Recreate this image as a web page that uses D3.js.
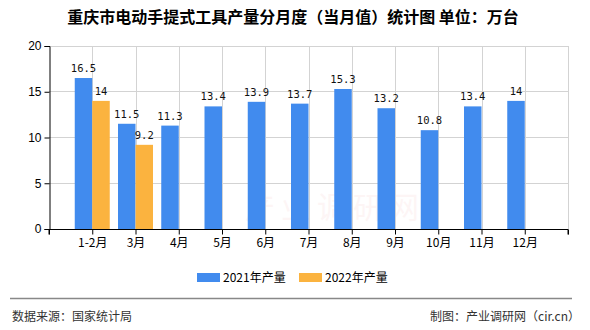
<!DOCTYPE html>
<html>
<head>
<meta charset="utf-8">
<script src="https://cdn.jsdelivr.net/npm/d3@7"></script>
<style>
  html, body { margin: 0; padding: 0; background: #fff; }
  svg { display: block; }
</style>
</head>
<body>
<div id="chart"></div>
<script>
// Monthly output of electric hand-held power tools, Chongqing (10k units)
const categories = ["1-2月", "3月", "4月", "5月", "6月", "7月", "8月", "9月", "10月", "11月", "12月"];
const values2021 = [16.5, 11.5, 11.3, 13.4, 13.9, 13.7, 15.3, 13.2, 10.8, 13.4, 14];
const values2022 = [14, 9.2];
const seriesNames = ["2021年产量", "2022年产量"];
const seriesColors = ["#418BEE", "#FBB33F"];
const yTicks = [0, 5, 10, 15, 20];

const W = 590, H = 330;
const plotLeft = 49, plotRight = 568, plotTop = 46, plotBottom = 229;

const svg = d3.select("#chart").append("svg").attr("width", W).attr("height", H);

// Category points sit on the band boundaries; empty slots pad both ends
const slots = ["__start"].concat(categories, ["__end"]);
const x = d3.scalePoint().domain(slots).range([plotLeft, plotRight]).padding(0);
const y = d3.scaleLinear().domain([0, 20]).range([plotBottom, plotTop]);
const barW = 17.5;

// Faint watermark
svg.append("text")
  .attr("x", 335).attr("y", 218)
  .attr("text-anchor", "middle")
  .attr("font-family", "Noto Sans CJK SC")
  .attr("font-size", 30)
  .attr("letter-spacing", 6)
  .attr("fill", "#e05050")
  .attr("opacity", 0.05)
  .text("产业调研网");

// Grid lines
const grid = svg.append("g");
grid.selectAll("line.h").data(yTicks.filter(d => d > 0)).join("line")
  .attr("x1", plotLeft).attr("x2", plotRight)
  .attr("y1", d => y(d)).attr("y2", d => y(d))
  .attr("stroke", "#d3d3d3").attr("stroke-width", 1)
  .attr("shape-rendering", "crispEdges");
grid.selectAll("line.v").data(slots.slice(1)).join("line")
  .attr("x1", d => Math.round(x(d)) + 0.5).attr("x2", d => Math.round(x(d)) + 0.5)
  .attr("y1", plotTop).attr("y2", plotBottom)
  .attr("stroke", "#d3d3d3").attr("stroke-width", 1);

// Bars
const bars = svg.append("g");
bars.selectAll("rect.s1").data(values2021).join("rect")
  .attr("x", (d, i) => x(categories[i]) - barW)
  .attr("y", d => y(d))
  .attr("width", barW)
  .attr("height", d => plotBottom - y(d))
  .attr("fill", seriesColors[0]);
bars.selectAll("rect.s2").data(values2022).join("rect")
  .attr("x", (d, i) => x(categories[i]))
  .attr("y", d => y(d))
  .attr("width", barW)
  .attr("height", d => plotBottom - y(d))
  .attr("fill", seriesColors[1]);

// Value labels
const labelFont = "'DejaVu Sans Mono', monospace";
const labels = svg.append("g")
  .attr("font-family", labelFont).attr("font-size", 10.5).attr("fill", "#111");
labels.selectAll("text.s1").data(values2021).join("text")
  .attr("x", (d, i) => x(categories[i]) - barW / 2)
  .attr("y", d => y(d) - 6)
  .attr("text-anchor", "middle")
  .text(d => d);
labels.selectAll("text.s2").data(values2022).join("text")
  .attr("x", (d, i) => x(categories[i]) + barW / 2)
  .attr("y", d => y(d) - 6)
  .attr("text-anchor", "middle")
  .text(d => d);

// Y axis
const yAxis = svg.append("g")
  .attr("transform", `translate(${plotLeft + 0.5},0)`)
  .call(d3.axisLeft(y).tickValues(yTicks).tickSize(5).tickPadding(3));
yAxis.select(".domain").attr("stroke", "#000");
yAxis.selectAll(".tick line").attr("stroke", "#000");
yAxis.selectAll(".tick text")
  .attr("font-family", "'Liberation Sans', Arial, sans-serif")
  .attr("font-size", 12).attr("fill", "#000");

// X axis
const xAxis = svg.append("g")
  .attr("transform", `translate(0,${plotBottom + 0.5})`)
  .call(d3.axisBottom(x).tickSize(5).tickPadding(4)
    .tickFormat(d => d.startsWith("__") ? "" : d));
xAxis.select(".domain").attr("stroke", "#000").attr("d", `M${plotLeft},5V0H${plotRight}V5`);
xAxis.selectAll(".tick line").attr("stroke", "#000");
xAxis.selectAll(".tick text")
  .attr("font-family", "'Noto Sans CJK SC', sans-serif")
  .attr("font-size", 12).attr("fill", "#000");

// Title
svg.append("text")
  .attr("x", 293).attr("y", 23)
  .attr("text-anchor", "middle")
  .attr("font-family", "'Noto Sans CJK SC', sans-serif")
  .attr("font-size", 16).attr("font-weight", "bold").attr("fill", "#000")
  .text("重庆市电动手提式工具产量分月度（当月值）统计图  单位：万台");

// Legend
const legendX = [197, 299];
const legend = svg.append("g");
legendX.forEach((lx, i) => {
  legend.append("rect").attr("x", lx).attr("y", 273).attr("width", 23).attr("height", 9)
    .attr("fill", seriesColors[i]);
  legend.append("text").attr("x", lx + 26).attr("y", 282)
    .attr("font-family", "'Noto Sans CJK SC', sans-serif")
    .attr("font-size", 12).attr("fill", "#000")
    .text(seriesNames[i]);
});

// Footer
svg.append("line").attr("x1", 10).attr("x2", 572).attr("y1", 298.5).attr("y2", 298.5)
  .attr("stroke", "#888").attr("stroke-width", 1.5);
svg.append("text").attr("x", 12).attr("y", 321)
  .attr("font-family", "'Noto Sans CJK SC', sans-serif")
  .attr("font-size", 12).attr("fill", "#333")
  .text("数据来源：国家统计局");
svg.append("text").attr("x", 580).attr("y", 321)
  .attr("text-anchor", "end")
  .attr("font-family", "'Noto Sans CJK SC', sans-serif")
  .attr("font-size", 12).attr("fill", "#333")
  .text("制图：产业调研网（cir.cn）");
</script>
</body>
</html>
